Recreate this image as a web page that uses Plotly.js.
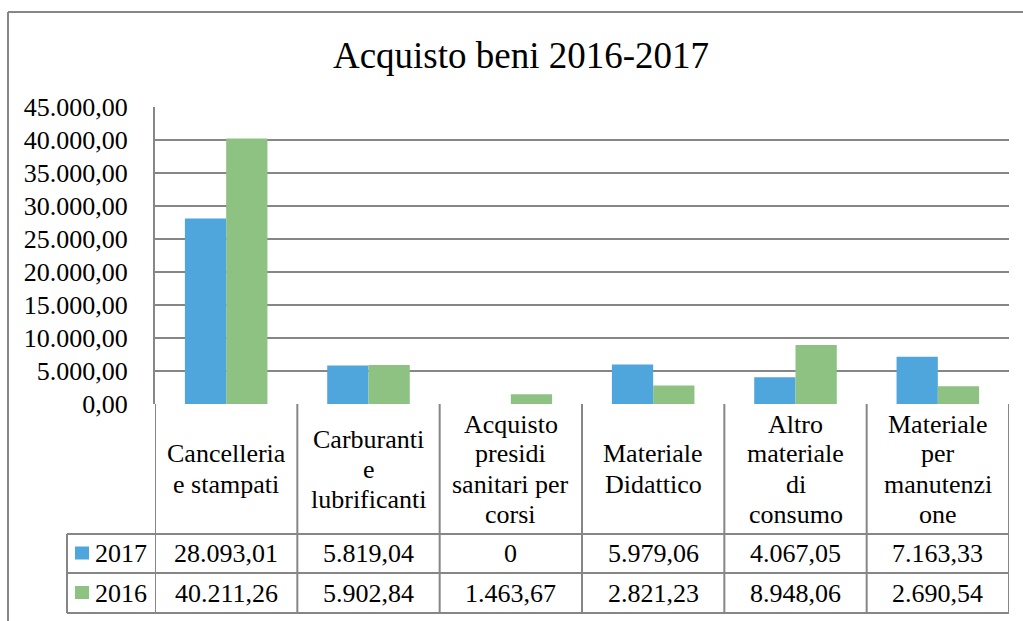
<!DOCTYPE html>
<html>
<head>
<meta charset="utf-8">
<script src="https://cdn.plot.ly/plotly-3.0.1.min.js"></script>
<style>html,body{margin:0;padding:0;background:#fff;}#chart{width:1023px;height:621px;}</style>
</head>
<body>
<div id="chart"></div>
<script>
// ---- data ----
const categories = ["Cancelleria e stampati", "Carburanti e lubrificanti", "Acquisto presidi sanitari per corsi", "Materiale Didattico", "Altro materiale di consumo", "Materiale per manutenzione"];
const headerLines = [
  ["Cancelleria", "e stampati"],
  ["Carburanti", "e", "lubrificanti"],
  ["Acquisto", "presidi", "sanitari per", "corsi"],
  ["Materiale", "Didattico"],
  ["Altro", "materiale", "di", "consumo"],
  ["Materiale", "per", "manutenzi", "one"]
];
const seriesNames = ["2017", "2016"];
const values2017 = [28093.01, 5819.04, 0, 5979.06, 4067.05, 7163.33];
const values2016 = [40211.26, 5902.84, 1463.67, 2821.23, 8948.06, 2690.54];
const seriesColors = ["#4FA6DC", "#8DC282"];

// ---- layout geometry (pixels) ----
const W = 1023, H = 621;
const L = 155, R = 1009, T = 107, B = 404;
const rowTop = [404, 534, 573, 613];
const legendLeft = 67;
const gray = "#868686";
const font = "Liberation Serif";
const fs = 26;

function py(p) { return (B - p) / (B - T); }
function pxp(p) { return (p - L) / (R - L); }
function fmt(v) {
  if (v === 0) return "0";
  const parts = v.toFixed(2).split(".");
  const intPart = parts[0].replace(/\B(?=(\d{3})+(?!\d))/g, ".");
  return intPart + "," + parts[1];
}

const xIdx = categories.map((c, i) => i);
const traces = [values2017, values2016].map((vals, s) => ({
  type: "bar", x: xIdx, y: vals, name: seriesNames[s],
  marker: { color: seriesColors[s] }, hoverinfo: "none"
}));

const shapes = [];
const annotations = [];
const lineStyle = { color: gray, width: 2 };

// outer chart border (left and top)
shapes.push({ type: "line", xref: "paper", yref: "paper", x0: pxp(8), x1: pxp(8), y0: py(12), y1: py(630), line: lineStyle });
shapes.push({ type: "line", xref: "paper", yref: "paper", x0: pxp(8), x1: pxp(1030), y0: py(12), y1: py(12), line: lineStyle });

// data table: vertical lines
for (let k = 0; k <= categories.length; k++) {
  shapes.push({ type: "line", xref: "x", yref: "paper", x0: k - 0.5, x1: k - 0.5, y0: py(rowTop[0]), y1: py(rowTop[3]), line: lineStyle });
}
shapes.push({ type: "line", xref: "paper", yref: "paper", x0: pxp(legendLeft), x1: pxp(legendLeft), y0: py(rowTop[1]), y1: py(rowTop[3]), line: lineStyle });
for (let r = 1; r <= 3; r++) {
  shapes.push({ type: "line", xref: "paper", yref: "paper", x0: pxp(legendLeft), x1: 1, y0: py(rowTop[r]), y1: py(rowTop[r]), line: lineStyle });
}

// header text
const lineH = 30;
const headerCenter = (rowTop[0] + rowTop[1]) / 2;
headerLines.forEach((lines, i) => {
  const n = lines.length;
  lines.forEach((t, j) => {
    const yc = headerCenter + (j - (n - 1) / 2) * lineH;
    annotations.push({ xref: "x", yref: "paper", x: i, y: py(yc), text: t, showarrow: false, xanchor: "center", yanchor: "middle", font: { family: font, size: fs, color: "#000" } });
  });
});

// value rows + legend keys
[values2017, values2016].forEach((vals, s) => {
  const yc = (rowTop[s + 1] + rowTop[s + 2]) / 2;
  vals.forEach((v, i) => {
    annotations.push({ xref: "x", yref: "paper", x: i, y: py(yc), text: fmt(v), showarrow: false, xanchor: "center", yanchor: "middle", font: { family: font, size: fs, color: "#000" } });
  });
  shapes.push({ type: "rect", xref: "paper", yref: "paper", x0: pxp(75), x1: pxp(89), y0: py(yc - 7), y1: py(yc + 6), fillcolor: seriesColors[s], line: { width: 0 } });
  annotations.push({ xref: "paper", yref: "paper", x: pxp(93), y: py(yc), text: seriesNames[s], showarrow: false, xanchor: "left", yanchor: "middle", font: { family: font, size: fs, color: "#000" } });
});

const layout = {
  width: W, height: H,
  margin: { l: L, r: W - R, t: T, b: H - B, pad: 0 },
  paper_bgcolor: "#fff", plot_bgcolor: "#fff",
  separators: ",.",
  showlegend: false,
  barmode: "group", bargap: 0.42, bargroupgap: 0,
  title: { text: "Acquisto beni 2016-2017", font: { family: font, size: 37, color: "#000" }, x: 521 / W, xanchor: "center", xref: "container", yref: "container", y: 1 - 55 / H, yanchor: "middle" },
  xaxis: { range: [-0.5, categories.length - 0.5], showticklabels: false, showgrid: false, zeroline: false, showline: false, ticks: "", fixedrange: true },
  yaxis: { range: [0, 45000], dtick: 5000, tickformat: ",.2f", showgrid: true, gridcolor: gray, gridwidth: 2, zeroline: false, showline: true, linecolor: gray, linewidth: 2, ticks: "outside", ticklen: 20, tickcolor: "rgba(0,0,0,0)", tickfont: { family: font, size: fs, color: "#000" }, fixedrange: true },
  shapes: shapes,
  annotations: annotations
};

Plotly.newPlot("chart", traces, layout, { displayModeBar: false, staticPlot: true });
</script>
</body>
</html>
